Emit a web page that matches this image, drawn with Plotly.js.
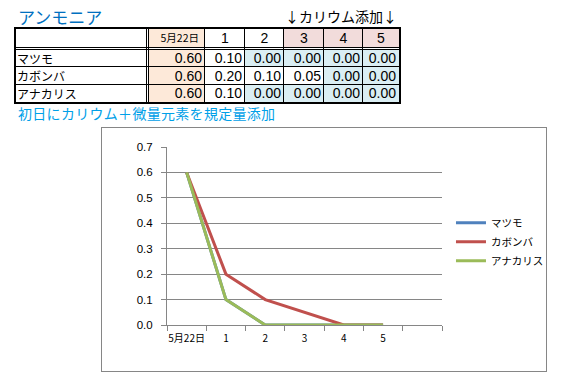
<!DOCTYPE html>
<html>
<head>
<meta charset="utf-8">
<script src="https://cdn.plot.ly/plotly-3.0.1.min.js"></script>
<style>
  html, body { margin: 0; padding: 0; background: #fff; }
  body { width: 563px; height: 386px; position: relative; overflow: hidden;
         font-family: "Noto Sans CJK JP", sans-serif; }
  .abs { position: absolute; white-space: nowrap; }
  #chartbox { position: absolute; left: 101px; top: 127px; width: 446px; height: 245px;
              box-sizing: border-box; border: 1px solid #868686; background: #fff; }
  #chart { width: 444px; height: 243px; }
</style>
</head>
<body>
<div id="tbl"></div>
<div id="chartbox"><div id="chart"></div></div>
<script>
// ---- data ----
const sheetTitle = "アンモニア";
const additionNote = "↓カリウム添加↓";
const footNote = "初日にカリウム＋微量元素を規定量添加";
const columnLabels = ["5月22日", "1", "2", "3", "4", "5"];
const axisCategories = ["5月22日", "1", "2", "3", "4", "5", " "];
const seriesNames = ["マツモ", "カボンバ", "アナカリス"];
const matsumo   = [0.60, 0.10, 0.00, 0.00, 0.00, 0.00];
const kabomba   = [0.60, 0.20, 0.10, 0.05, 0.00, 0.00];
const anacharis = [0.60, 0.10, 0.00, 0.00, 0.00, 0.00];
const potassiumDays = ["3", "4", "5"];

// ---- table (HTML) ----
const seriesValues = [matsumo, kabomba, anacharis];
const tbl = document.getElementById('tbl');
function el(style, text) {
  const d = document.createElement('div');
  d.className = 'abs';
  Object.assign(d.style, style);
  if (text !== undefined) d.textContent = text;
  tbl.appendChild(d);
  return d;
}
const colX = [16, 149, 205, 245, 284, 324, 363, 399];
const colLines = [204, 244, 283, 323, 362];
const rowY = [29, 50, 67, 85, 102];
const rowLines = [66, 84];
const peach = '#FDE9D9', pink = '#F2DCDB', blue = '#DAEEF3';
const numFont = '"Liberation Sans", Arial, sans-serif';

for (let c = 0; c < columnLabels.length; c++) {
  const left = colX[c + 1], right = colX[c + 2];
  const hb = c === 0 ? peach : (potassiumDays.includes(columnLabels[c]) ? pink : '#fff');
  el({left: left + 'px', top: rowY[0] + 'px', width: (right - left) + 'px', height: (47 - rowY[0]) + 'px', background: hb});
  for (let r = 0; r < seriesValues.length; r++) {
    const v = seriesValues[r][c];
    const bg = c === 0 ? peach : (v === 0 ? blue : '#fff');
    el({left: left + 'px', top: rowY[r + 1] + 'px', width: (right - left) + 'px', height: (rowY[r + 2] - rowY[r + 1]) + 'px', background: bg});
  }
}
function hline(y, x0, x1, h) { el({left: x0 + 'px', top: y + 'px', width: (x1 - x0) + 'px', height: (h || 1) + 'px', background: '#000'}); }
function vline(x, y0, y1, w) { el({left: x + 'px', top: y0 + 'px', width: (w || 1) + 'px', height: (y1 - y0) + 'px', background: '#000'}); }
hline(27, 14, 401, 2);
hline(102, 14, 401, 2);
vline(14, 27, 104, 2);
vline(399, 27, 104, 2);
hline(47, 14, 401, 1);
hline(49, 14, 401, 1);
rowLines.forEach(y => hline(y, 14, 401, 1));
vline(146, 27, 104, 1);
vline(148, 27, 104, 1);
colLines.forEach(x => vline(x, 27, 104, 1));

columnLabels.forEach((lab, c) => {
  const left = colX[c + 1], right = colX[c + 2];
  if (c === 0) {
    el({left: left + 'px', top: '30px', width: (right - left - 6) + 'px', height: '16px', lineHeight: '16px',
        textAlign: 'right', fontSize: '10.5px', color: '#000'}, lab);
  } else {
    el({left: left + 'px', top: '30px', width: (right - left) + 'px', height: '16px', lineHeight: '16px',
        textAlign: 'center', fontSize: '14px', fontFamily: numFont, color: '#000'}, lab);
  }
});
seriesNames.forEach((name, r) => {
  const top = rowY[r + 1], h = rowY[r + 2] - rowY[r + 1];
  el({left: '17px', top: top + 'px', height: h + 'px', lineHeight: h + 'px', fontSize: '12px', color: '#000'}, name);
  seriesValues[r].forEach((v, c) => {
    const left = colX[c + 1], right = colX[c + 2];
    el({left: left + 'px', top: top + 'px', width: (right - left - 3) + 'px', height: h + 'px', lineHeight: h + 'px',
        textAlign: 'right', fontSize: '14px', fontFamily: numFont, color: '#000'}, v.toFixed(2));
  });
});
el({left: '18px', top: '7px', fontSize: '17px', lineHeight: '20px', color: '#0070C0'}, sheetTitle);
el({left: '285px', top: '8px', fontSize: '14px', lineHeight: '17px', color: '#000'}, additionNote);
el({left: '18px', top: '105px', fontSize: '14px', lineHeight: '17px', color: '#00A0E8', letterSpacing: '0.3px'}, footNote);

// ---- chart ----
const colors = ['#4F81BD', '#C0504D', '#9BBB59'];
const traces = seriesNames.map((n, i) => ({
  type: 'scatter', mode: 'lines', name: n,
  x: columnLabels, y: seriesValues[i],
  line: {color: colors[i], width: 3},
  hoverinfo: 'skip'
}));
traces.push({type: 'scatter', mode: 'lines', x: axisCategories, y: axisCategories.map(() => null),
             showlegend: false, hoverinfo: 'skip', line: {width: 0}});

const layout = {
  width: 444, height: 243,
  margin: {l: 65, r: 104, t: 19, b: 46},
  paper_bgcolor: '#fff', plot_bgcolor: '#fff',
  showlegend: true,
  font: {family: '"Liberation Sans", Arial, sans-serif', color: '#000'},
  xaxis: {
    type: 'category', categoryorder: 'array', categoryarray: axisCategories,
    range: [-0.5, axisCategories.length - 0.5],
    tickson: 'boundaries', ticks: 'outside', ticklen: 5, tickcolor: '#868686',
    tickangle: 0, ticklabelstandoff: 4,
    showline: true, linecolor: '#868686', linewidth: 1,
    showgrid: false, zeroline: false, fixedrange: true,
    tickfont: {size: 10, family: '"Noto Sans CJK JP", sans-serif', color: '#000'}
  },
  yaxis: {
    range: [0, 0.7], dtick: 0.1, tick0: 0, tickformat: '.1f',
    ticks: 'outside', ticklen: 5, tickcolor: '#868686', ticklabelstandoff: 6,
    showline: true, linecolor: '#868686', linewidth: 1,
    showgrid: true, gridcolor: '#868686', gridwidth: 1, zeroline: false, fixedrange: true,
    tickfont: {size: 11.5, color: '#000'}
  },
  legend: {
    xref: 'container', yref: 'container',
    x: 0.786, xanchor: 'left', y: 0.532, yanchor: 'middle',
    font: {size: 10.5, family: '"Noto Sans CJK JP", sans-serif', color: '#000'},
    bgcolor: 'rgba(0,0,0,0)', borderwidth: 0, tracegroupgap: 0, itemwidth: 30
  }
};
Plotly.newPlot('chart', traces, layout, {displayModeBar: false, staticPlot: true});
</script>
</body>
</html>
